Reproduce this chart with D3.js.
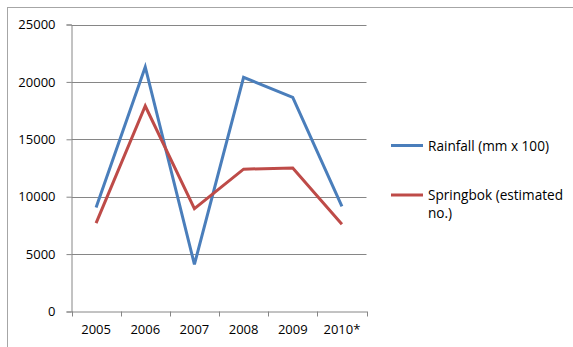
<!DOCTYPE html>
<html>
<head>
<meta charset="utf-8">
<script src="https://cdn.jsdelivr.net/npm/d3@7"></script>
<style>
  body { margin: 0; background: #fff; }
  svg { display: block; }
  text { font-family: "Open Sans", sans-serif; font-size: 13px; fill: #000; }
  .legend text { font-size: 13.6px; }
</style>
</head>
<body>
<svg id="chart" width="573" height="347"></svg>
<script>
// Years, with 2010 marked as provisional
const years = ["2005", "2006", "2007", "2008", "2009", "2010*"];
// Rainfall in mm, scaled by 100
const rainfall = [9050, 21300, 4100, 20400, 18650, 9150];
// Estimated number of springbok
const springbok = [7700, 17900, 8950, 12400, 12500, 7600];
const yTicks = [0, 5000, 10000, 15000, 20000, 25000];

const series = [
  { name: "Rainfall (mm x 100)", lines: ["Rainfall (mm x 100)"], values: rainfall, color: "#4a7ebb" },
  { name: "Springbok (estimated no.)", lines: ["Springbok (estimated", "no.)"], values: springbok, color: "#be4b48" }
];

const svg = d3.select("#chart");

// Outer frame of the chart area
svg.append("rect")
  .attr("x", 7.5).attr("y", 7.5)
  .attr("width", 580).attr("height", 350)
  .attr("fill", "none").attr("stroke", "#a6a6a6").attr("stroke-width", 1);

const plot = { left: 71.5, right: 366.5, top: 24.5, bottom: 311.5 };

const x = d3.scaleBand().domain(years).range([plot.left, plot.right]);
const y = d3.scaleLinear().domain([0, 25000]).range([plot.bottom, plot.top]);

// Horizontal gridlines
svg.append("g")
  .selectAll("line")
  .data(yTicks.filter(d => d > 0))
  .join("line")
  .attr("x1", plot.left).attr("x2", plot.right)
  .attr("y1", d => Math.round(y(d)) + 0.5).attr("y2", d => Math.round(y(d)) + 0.5)
  .attr("stroke", "#868686").attr("stroke-width", 1);

// Y axis
const yAxis = svg.append("g")
  .attr("transform", `translate(${plot.left},0)`)
  .call(d3.axisLeft(y).tickValues(yTicks).tickSize(5).tickPadding(11).tickFormat(d3.format("d")));
yAxis.selectAll("path, line").attr("stroke", "#868686");
yAxis.selectAll("text").attr("font-size", null).attr("font-family", null);

// X axis with tick marks at band edges
const xAxis = svg.append("g")
  .attr("transform", `translate(0,${plot.bottom})`)
  .call(d3.axisBottom(x).tickSize(0).tickPadding(13));
xAxis.select(".domain").attr("stroke", "#868686");
xAxis.selectAll("text").attr("font-size", null).attr("font-family", null);
svg.append("g")
  .selectAll("line")
  .data(years.map(d => x(d)).concat([plot.right]))
  .join("line")
  .attr("x1", d => Math.round(d) + 0.5).attr("x2", d => Math.round(d) + 0.5)
  .attr("y1", plot.bottom).attr("y2", plot.bottom + 5)
  .attr("stroke", "#868686");
svg.selectAll(".domain").attr("fill", "none");

// Series lines
const line = d3.line()
  .x((d, i) => x(years[i]) + x.bandwidth() / 2)
  .y(d => y(d));

svg.append("g")
  .selectAll("path")
  .data(series)
  .join("path")
  .attr("d", d => line(d.values))
  .attr("fill", "none")
  .attr("stroke", d => d.color)
  .attr("stroke-width", 3)
  .attr("stroke-linejoin", "miter");

// Legend
const legend = svg.append("g").attr("class", "legend");
const legendY = [145.5, 195];
series.forEach((s, i) => {
  const g = legend.append("g").attr("transform", `translate(391,${legendY[i]})`);
  g.append("line").attr("x1", 0).attr("x2", 32).attr("y1", 0).attr("y2", 0)
    .attr("stroke", s.color).attr("stroke-width", 3);
  const t = g.append("text").attr("x", 37).attr("y", 5);
  s.lines.forEach((ln, j) => {
    t.append("tspan").attr("x", 37).attr("dy", j === 0 ? 0 : 18).text(ln);
  });
});
</script>
</body>
</html>
